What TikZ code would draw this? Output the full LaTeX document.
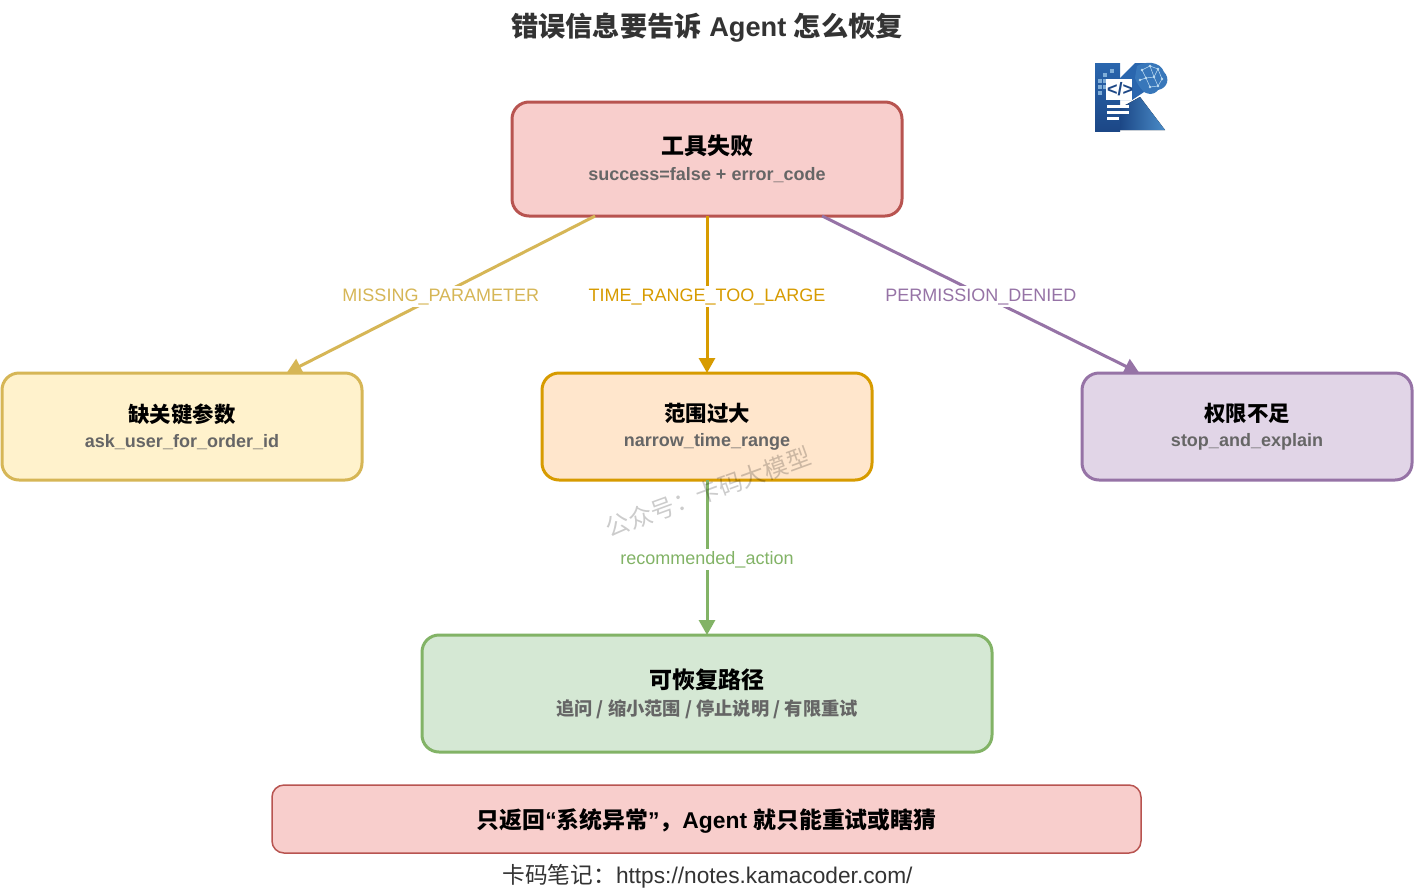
\documentclass[tikz,border=0pt]{standalone}
\usepackage{fontspec}
\setmainfont{Liberation Sans}
\newfontfamily\cjk{Noto Sans CJK SC}
\usetikzlibrary{arrows.meta}

\definecolor{redfill}{HTML}{F8CECC}
\definecolor{reddraw}{HTML}{B85450}
\definecolor{yellowfill}{HTML}{FFF2CC}
\definecolor{yellowdraw}{HTML}{D6B656}
\definecolor{orangefill}{HTML}{FFE6CC}
\definecolor{orangedraw}{HTML}{D79B00}
\definecolor{purplefill}{HTML}{E1D5E7}
\definecolor{purpledraw}{HTML}{9673A6}
\definecolor{greenfill}{HTML}{D5E8D4}
\definecolor{greendraw}{HTML}{82B366}
\definecolor{subgray}{HTML}{666666}
\definecolor{logodark}{HTML}{1C4786}
\definecolor{logomid}{HTML}{2A66AE}
\definecolor{logolight}{HTML}{4A8CC8}
\definecolor{logopale}{HTML}{BFDDF2}

\newcommand{\boxhead}[2]{{\fontsize{#1}{#1}\selectfont\bfseries\cjk #2}}
\newcommand{\boxsub}[1]{{\fontsize{18}{18}\selectfont\bfseries\color{subgray}#1}}

\tikzset{
  box/.style={draw, rounded corners=17pt, line width=3pt, align=center, inner sep=0pt, outer sep=0pt},
  link/.style={line width=3pt, -{Triangle[length=15pt,width=16pt]}},
  linklabel/.style={midway, yshift=-2pt, fill=white, inner sep=2pt, font=\fontsize{18}{22}\selectfont}
}

\begin{document}
\begin{tikzpicture}[x=1pt, y=-1pt]
  \useasboundingbox (0,0) rectangle (1415,892);
  \fill[white] (0,0) rectangle (1415,892);

  \node[inner sep=0pt, text=black!80] (title) at (707,28) {\fontsize{27.2}{27.2}\selectfont\bfseries{\cjk 错误信息要告诉} Agent {\cjk 怎么恢复}};

  % logo
  \fill[top color=logomid, bottom color=logodark] (1095,63) rectangle (1120,131);
  \fill[logomid] (1135,63) -- (1150,63) -- (1144,92) -- (1132,100) -- (1120,100) -- (1120,78) -- cycle;
  \fill[left color=logodark, right color=logolight] (1120,108) -- (1140,97) -- (1165,130) -- (1140,130) -- (1120,130) -- cycle;
  \fill[logomid!55!logolight] (1137,66) .. controls (1145,61) and (1160,61) .. (1164,72) .. controls (1170,78) and (1168,88) .. (1158,90) .. controls (1153,96) and (1148,94) .. (1144,92) .. controls (1140,88) and (1136,82) .. (1135,78) -- cycle;
  \foreach \dotx/\doty in {1142/70,1150/66,1158/69,1146/78,1154/77,1162/79,1150/87,1158/86,1140/80}
    \fill[logopale] (\dotx,\doty) circle (1.3pt);
  \draw[logopale, line width=.5pt] (1142,70) -- (1150,66) -- (1158,69) -- (1162,79) -- (1158,86) -- (1150,87) -- (1146,78) -- (1142,70) (1146,78) -- (1154,77) -- (1158,69) (1154,77) -- (1158,86) (1140,80) -- (1146,78) (1150,66) -- (1154,77);
  \foreach \sqx/\sqy in {1110/69,1103/73,1098/79,1098/85,1103/79,1103/85,1098/91}
    \fill[logolight!70] (\sqx,\sqy) rectangle +(4,4);
  \fill[white] (1106,79) rectangle (1132,100);
  \node[inner sep=0pt, text=logodark] (code) at (1120,89.5) {\fontsize{18}{18}\selectfont\bfseries </>};
  \fill[white] (1107,105) rectangle (1129,107.5);
  \fill[white] (1107,111) rectangle (1129,113.5);
  \fill[white] (1107,117) rectangle (1119,119.5);

  % boxes
  \node[box, fill=redfill, draw=reddraw, minimum width=390pt, minimum height=114pt] (fail) at (707,159)
    {\boxhead{23}{工具失败}\\[10pt]\boxsub{success=false + error\_code}};
  \node[box, fill=yellowfill, draw=yellowdraw, minimum width=360pt, minimum height=107pt] (missing) at (182,426.5)
    {\boxhead{21.4}{缺关键参数}\\[9pt]\boxsub{ask\_user\_for\_order\_id}};
  \node[box, fill=orangefill, draw=orangedraw, minimum width=330pt, minimum height=107pt] (narrow) at (707,426.5)
    {\boxhead{21.4}{范围过大}\\[9pt]\boxsub{narrow\_time\_range}};
  \node[box, fill=purplefill, draw=purpledraw, minimum width=330pt, minimum height=107pt] (denied) at (1247,426.5)
    {\boxhead{21.4}{权限不足}\\[9pt]\boxsub{stop\_and\_explain}};
  \node[box, fill=greenfill, draw=greendraw, minimum width=570pt, minimum height=117pt] (recover) at (707,693.5)
    {\boxhead{23}{可恢复路径}\\[8pt]{\fontsize{18.25}{18.25}\selectfont\bfseries\color{subgray}\cjk 追问 / 缩小范围 / 停止说明 / 有限重试}};
  \node[box, fill=redfill, draw=reddraw, line width=1.5pt, rounded corners=12pt, minimum width=869pt, minimum height=68pt] (warn) at (706.5,819)
    {\raisebox{-9pt}[0pt][0pt]{\fontsize{22.85}{22.85}\selectfont\bfseries{\cjk 只返回}“{\cjk 系统异常}”{\cjk ，}Agent {\cjk 就只能重试或瞎猜}}};

  % connectors
  \draw[link, draw=yellowdraw, fill=yellowdraw] (fail) -- node[linklabel, text=yellowdraw] (missinglabel) {MISSING\_PARAMETER} (missing);
  \draw[link, draw=orangedraw, fill=orangedraw] (fail) -- node[linklabel, text=orangedraw] (narrowlabel) {TIME\_RANGE\_TOO\_LARGE} (narrow);
  \draw[link, draw=purpledraw, fill=purpledraw] (fail) -- node[linklabel, text=purpledraw] (deniedlabel) {PERMISSION\_DENIED} (denied);
  \draw[link, draw=greendraw, fill=greendraw] (narrow) -- node[linklabel, text=greendraw] (recoverlabel) {recommended\_action} (recover);

  \node[inner sep=0pt, rotate=20, text=black, opacity=.2] (stamp) at (708,492) {\fontsize{24}{24}\selectfont\cjk 公众号：卡码大模型};
  \node[inner sep=0pt, text=black!80] (footer) at (707.5,876.5) {\fontsize{22.7}{22.7}\selectfont{\cjk 卡码笔记：}https://notes.kamacoder.com/};
\end{tikzpicture}
\end{document}
